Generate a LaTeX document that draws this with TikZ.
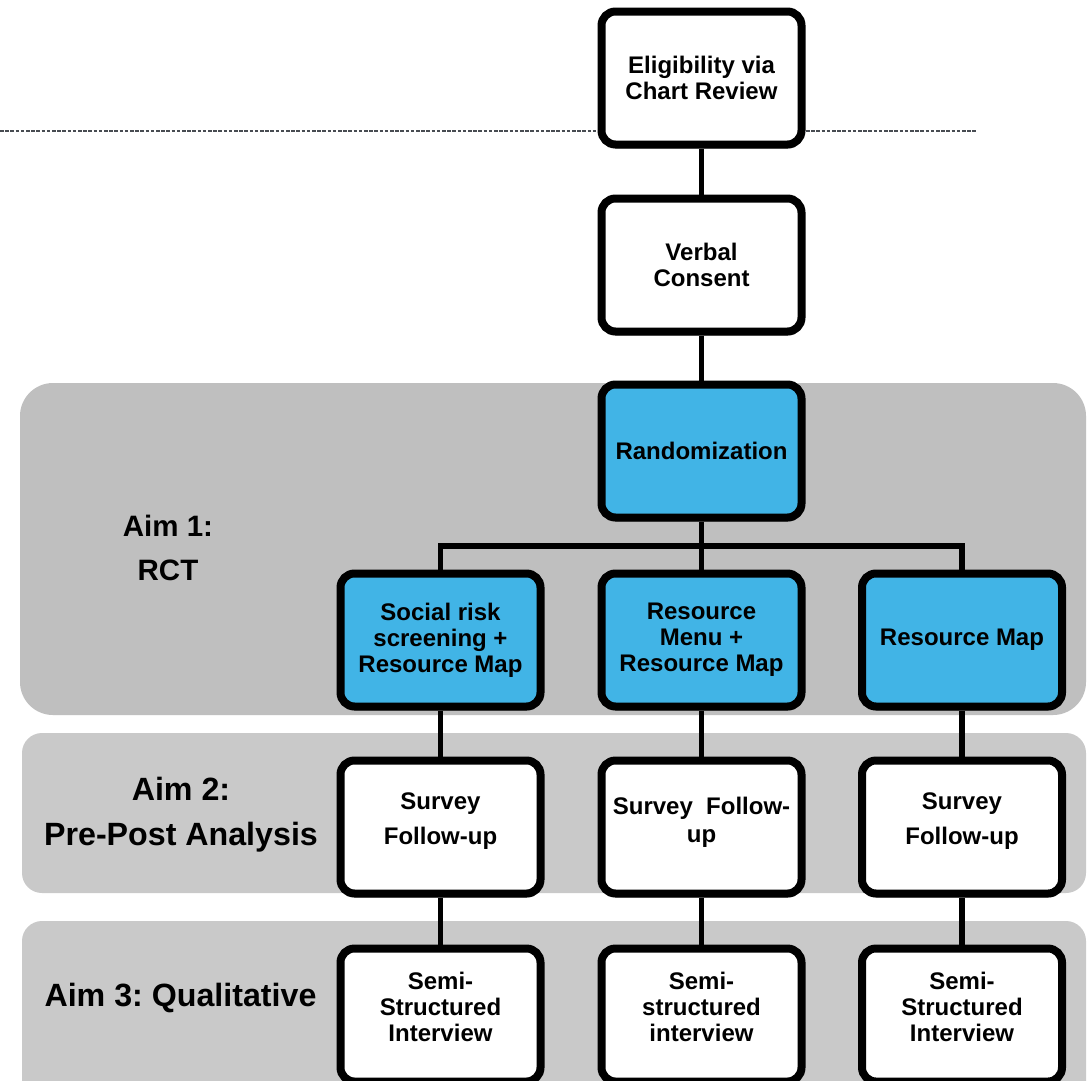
\documentclass[tikz,border=0pt]{standalone}
\usepackage{fontspec}
\setmainfont{Liberation Sans}
\usetikzlibrary{shadows}
\definecolor{boxblue}{RGB}{65,180,230}
\definecolor{bandA}{RGB}{191,191,191}
\definecolor{bandB}{RGB}{201,201,201}
\definecolor{dashgray}{RGB}{72,76,82}
\begin{document}
\frenchspacing
\begin{tikzpicture}[x=1pt,y=-1pt,
  stepbox/.style={draw=black, line width=8pt, rounded corners=14pt, fill=white,
    minimum width=200pt, minimum height=133pt, align=center, inner sep=2pt,
    font=\bfseries\fontsize{24}{26}\selectfont,
    drop shadow={shadow xshift=1pt, shadow yshift=-4pt, opacity=0.3, fill=black}},
  armbox/.style={stepbox, fill=boxblue},
  link/.style={line width=5.5pt, draw=black},
  aimlabel/.style={align=center, inner sep=0pt}]
\clip (0,0) rectangle (1091,1080);
\fill[white] (0,0) rectangle (1091,1080);

% bands
\fill[bandA, rounded corners=33pt] (20,383) rectangle (1086,715);
\fill[bandB, rounded corners=20pt] (22,733) rectangle (1086,893);
\fill[bandB, rounded corners=20pt] (22,921) rectangle (1086,1110);

% dashed line
\coordinate (dashL) at (0,131);
\coordinate (dashR) at (977,131);
\draw[dashgray, line width=1.3pt, dash pattern=on 3.5pt off 1.7pt] (dashL) -- (dashR);

% aim labels
\node[aimlabel, font=\bfseries\fontsize{29.5}{44}\selectfont] (aim1) at (168,547.5) {Aim 1:\\RCT};
\node[aimlabel, font=\bfseries\fontsize{32.2}{45}\selectfont] (aim2) at (181,814.5) {Aim 2:\\Pre-Post Analysis};
\node[aimlabel, font=\bfseries\fontsize{32.2}{45}\selectfont] (aim3) at (180.5,997.5) {Aim 3: Qualitative};

% main column
\node[stepbox] (elig) at (701.5,78) {Eligibility via\\Chart Review};
\node[stepbox] (verbal) at (701.5,265) {Verbal\\Consent};
\node[armbox] (rand) at (701.5,451) {Randomization};

% arms
\node[armbox] (armL) at (440.5,640) {Social risk\\screening +\\Resource Map};
\node[armbox] (armM) at (701.5,640) {Resource\\Menu +\\Resource Map};
\node[armbox] (armR) at (962,640) {Resource Map};

% surveys
\node[stepbox, text depth=17pt] (survL) at (440.5,827) {Survey\\[9pt]Follow-up};
\node[stepbox, text depth=14pt] (survM) at (701.5,827) {Survey~~Follow-\\[2pt]up};
\node[stepbox, text depth=17pt] (survR) at (962,827) {Survey\\[9pt]Follow-up};

% interviews
\node[stepbox, text depth=17pt] (semiL) at (440.5,1015) {Semi-\\Structured\\Interview};
\node[stepbox, text depth=17pt] (semiM) at (701.5,1015) {Semi-\\structured\\interview};
\node[stepbox, text depth=17pt] (semiR) at (962,1015) {Semi-\\Structured\\Interview};

% connectors
\coordinate (branch) at (701.5,546);
\draw[link] (elig.south) -- (verbal.north);
\draw[link] (verbal.south) -- (rand.north);
\draw[link] (rand.south) -- (armM.north);
\draw[link] (armL.north) |- (branch) -| (armR.north);
\draw[link] (armL.south) -- (survL.north);
\draw[link] (armM.south) -- (survM.north);
\draw[link] (armR.south) -- (survR.north);
\draw[link] (survL.south) -- (semiL.north);
\draw[link] (survM.south) -- (semiM.north);
\draw[link] (survR.south) -- (semiR.north);
\end{tikzpicture}
\end{document}
